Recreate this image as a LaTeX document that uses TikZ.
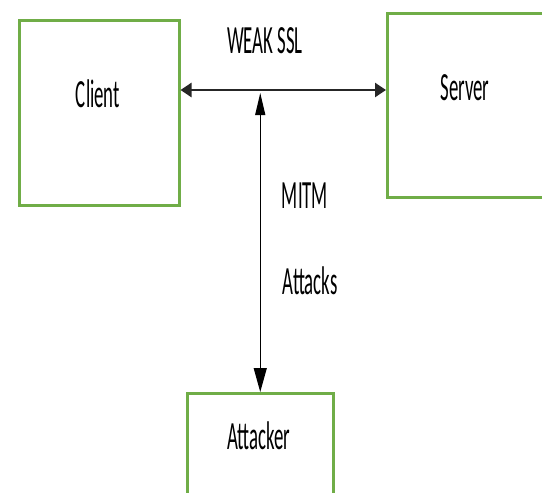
\documentclass[tikz,border=0pt]{standalone}
\usepackage{fontspec}
\setmainfont{Carlito}
\usepackage{graphicx}
\usetikzlibrary{arrows.meta}
\definecolor{boxgreen}{HTML}{70AD47}
\newcommand{\narrow}[1]{\scalebox{0.47}[1]{#1}}
\tikzset{
  box/.style={draw=boxgreen, line width=2.5pt, fill=none, inner sep=0pt, anchor=north west},
  lbl/.style={inner sep=0pt, font=\fontsize{40}{40}\selectfont},
}
\begin{document}
\begin{tikzpicture}[x=1pt, y=-1pt]
  \useasboundingbox (0,0) rectangle (542,493);
  % the three parties
  \node[box, minimum width=160pt, minimum height=185pt] (client) at (18,19) {};
  \node[box, minimum width=180pt, minimum height=184pt] (server) at (386,12) {};
  \node[box, minimum width=146pt, minimum height=120pt] (attacker) at (186,392) {};
  % their names
  \node[lbl] (clientname) at (98,94) {\narrow{Client}};
  \node[lbl] (servername) at (465,88) {\narrow{Server}};
  \node[lbl] (attackername) at (259,436) {\narrow{Attacker}};
  % channel and attack labels
  \node[lbl] (weak) at (265,41) {\narrow{WEAK SSL}};
  \node[lbl] (mitm) at (305,196) {\narrow{MITM}};
  \node[lbl] (attacks) at (310,281) {\narrow{Attacks}};
  % client <-> server channel
  \coordinate (chan) at (259,90);
  \coordinate (tap) at (259,93);
  \draw[black!85, line width=2.5pt, {Triangle[length=11pt,width=14pt]}-{Triangle[length=11pt,width=14pt]}]
    (client.east |- chan) -- (server.west |- chan);
  % attacker tapping the channel
  \draw[black, line width=1.2pt, {Triangle[length=22pt,width=10pt]}-{Triangle[length=24pt,width=13pt]}]
    (attacker.north |- tap) -- (attacker.north);
\end{tikzpicture}
\end{document}
